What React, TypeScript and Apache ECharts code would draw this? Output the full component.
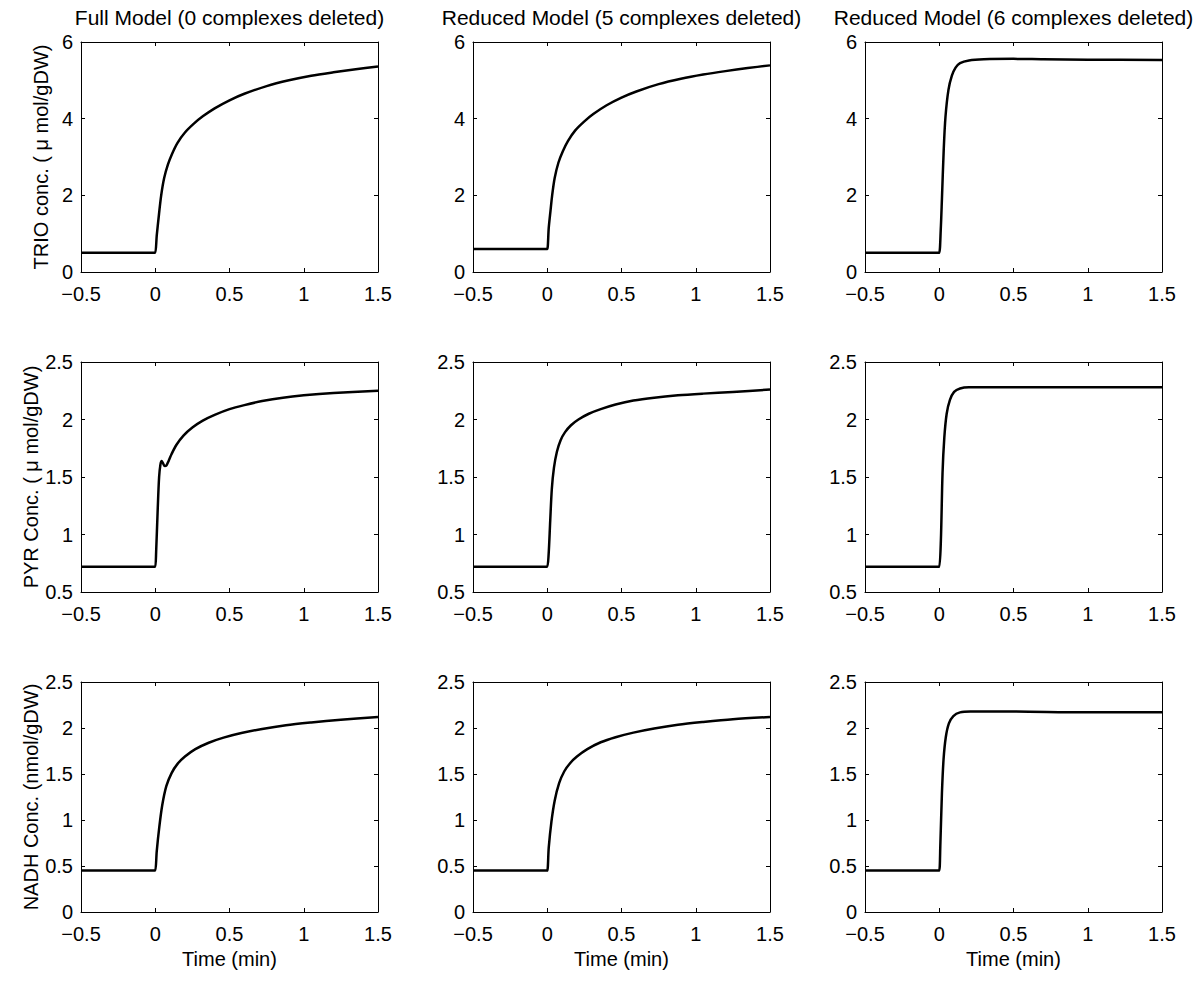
import React, { useEffect, useRef } from "react";
import * as echarts from "echarts";

const columnTitles = [
  "Full Model (0 complexes deleted)",
  "Reduced Model (5 complexes deleted)",
  "Reduced Model (6 complexes deleted)",
];
const rowLabels = [
  "TRIO conc. ( \u03bc mol/gDW)",
  "PYR Conc. ( \u03bc mol/gDW)",
  "NADH Conc. (nmol/gDW)",
];
const xAxisName = "Time (min)";
const xRange = { min: -0.5, max: 1.5, interval: 0.5 };
const yRanges = [
  { min: 0, max: 6, interval: 2 },
  { min: 0.5, max: 2.5, interval: 0.5 },
  { min: 0, max: 2.5, interval: 0.5 },
];

// [time (min), concentration]
const trioFull = [
  [-0.5, 0.5], [-0.01, 0.5], [0, 0.5], [0.01, 0.95], [0.025, 1.5], [0.04, 2.0], [0.06, 2.45],
  [0.085, 2.8], [0.113, 3.08], [0.15, 3.37], [0.2, 3.64], [0.26, 3.87], [0.32, 4.06], [0.4, 4.27],
  [0.5, 4.48], [0.6, 4.65], [0.75, 4.85], [0.9, 5.0], [1.05, 5.12], [1.2, 5.21], [1.35, 5.29], [1.5, 5.36],
];
const trio5 = [
  [-0.5, 0.6], [-0.01, 0.6], [0, 0.6], [0.01, 1.15], [0.022, 1.6], [0.033, 2.0], [0.05, 2.45],
  [0.075, 2.85], [0.105, 3.15], [0.14, 3.42], [0.19, 3.7], [0.25, 3.93], [0.31, 4.12], [0.4, 4.35],
  [0.5, 4.55], [0.6, 4.71], [0.75, 4.9], [0.9, 5.04], [1.05, 5.15], [1.2, 5.24], [1.35, 5.32], [1.5, 5.39],
];
const trio6 = [
  [-0.5, 0.5], [-0.01, 0.5], [0, 0.5], [0.01, 1.1], [0.018, 1.9], [0.03, 3.18], [0.042, 4.05],
  [0.062, 4.75], [0.085, 5.12], [0.11, 5.33], [0.14, 5.45], [0.2, 5.52], [0.3, 5.55],
  [0.5, 5.56], [0.7, 5.55], [1.0, 5.54], [1.5, 5.53],
];
const pyrFull = [
  [-0.5, 0.72], [-0.01, 0.72], [0, 0.72], [0.006, 0.85], [0.016, 1.2], [0.026, 1.5], [0.035, 1.61],
  [0.043, 1.64], [0.052, 1.62], [0.064, 1.595], [0.075, 1.6], [0.09, 1.64], [0.11, 1.7],
  [0.143, 1.78], [0.19, 1.86], [0.25, 1.93], [0.32, 1.99], [0.4, 2.04], [0.5, 2.09], [0.6, 2.125],
  [0.72, 2.16], [0.86, 2.19], [1.0, 2.21], [1.2, 2.23], [1.5, 2.25],
];
const pyr5 = [
  [-0.5, 0.72], [-0.01, 0.72], [0, 0.72], [0.009, 0.82], [0.02, 1.12], [0.031, 1.4], [0.045, 1.58],
  [0.065, 1.72], [0.09, 1.82], [0.12, 1.89], [0.16, 1.95], [0.21, 2.0], [0.28, 2.05], [0.36, 2.09],
  [0.46, 2.13], [0.58, 2.165], [0.72, 2.19], [0.88, 2.21], [1.05, 2.225], [1.25, 2.24], [1.5, 2.26],
];
const pyr6 = [
  [-0.5, 0.72], [-0.01, 0.72], [0, 0.72], [0.011, 0.95], [0.022, 1.53], [0.034, 1.84], [0.05, 2.05],
  [0.072, 2.17], [0.1, 2.24], [0.14, 2.27], [0.2, 2.28], [0.5, 2.28], [1.0, 2.28], [1.5, 2.28],
];
const nadhFull = [
  [-0.5, 0.45], [-0.01, 0.45], [0, 0.45], [0.01, 0.66], [0.027, 0.92], [0.047, 1.16], [0.075, 1.37],
  [0.11, 1.51], [0.15, 1.61], [0.2, 1.69], [0.27, 1.77], [0.36, 1.84], [0.46, 1.895], [0.58, 1.945],
  [0.72, 1.99], [0.88, 2.03], [1.05, 2.06], [1.25, 2.09], [1.5, 2.12],
];
const nadh5 = [
  [-0.5, 0.45], [-0.01, 0.45], [0, 0.45], [0.01, 0.7], [0.028, 0.98], [0.05, 1.21], [0.08, 1.4],
  [0.115, 1.53], [0.155, 1.62], [0.2, 1.69], [0.27, 1.77], [0.36, 1.845], [0.46, 1.9], [0.58, 1.95],
  [0.72, 1.995], [0.88, 2.035], [1.05, 2.065], [1.25, 2.095], [1.5, 2.12],
];
const nadh6 = [
  [-0.5, 0.45], [-0.01, 0.45], [0, 0.45], [0.007, 0.71], [0.018, 1.29], [0.029, 1.66], [0.044, 1.9],
  [0.065, 2.05], [0.095, 2.13], [0.14, 2.17], [0.21, 2.18], [0.48, 2.18], [0.97, 2.17], [1.5, 2.17],
];

const panelData = [
  [trioFull, trio5, trio6],
  [pyrFull, pyr5, pyr6],
  [nadhFull, nadh5, nadh6],
];

const COL_LEFT = [81, 473, 865];
const ROW_TOP = [42, 362, 682];
const PANEL_W = 297;
const PANEL_H = 230;
const FONT = "'Liberation Sans', Arial, Helvetica, sans-serif";
const FS = 20;

const fmtMinus = (v: number) => String(v).replace("-", "\u2212");

export default function App() {
  const ref = useRef<HTMLDivElement>(null);

  useEffect(() => {
    if (!ref.current) return;
    const chart = echarts.init(ref.current, undefined, { renderer: "svg" });

    const grids: any[] = [];
    const xAxes: any[] = [];
    const yAxes: any[] = [];
    const series: any[] = [];
    const titles: any[] = [];

    const lineStyle = { color: "#000", width: 1 };
    const tick = { show: true, inside: true, length: 4, lineStyle: { color: "#000", width: 1 } };

    for (let r = 0; r < 3; r++) {
      for (let c = 0; c < 3; c++) {
        const gi = grids.length;
        grids.push({
          left: COL_LEFT[c],
          top: ROW_TOP[r],
          width: PANEL_W,
          height: PANEL_H,
          containLabel: false,
          show: false,
        });
        xAxes.push({
          gridIndex: gi,
          type: "value",
          position: "bottom",
          min: xRange.min,
          max: xRange.max,
          interval: xRange.interval,
          axisLine: { show: true, onZero: false, lineStyle },
          axisTick: tick,
          splitLine: { show: false },
          axisLabel: {
            show: true,
            margin: 12,
            color: "#000",
            fontSize: FS,
            fontFamily: FONT,
            formatter: fmtMinus,
          },
          name: r === 2 ? xAxisName : "",
          nameLocation: "middle",
          nameGap: 37,
          nameTextStyle: { color: "#000", fontSize: FS, fontFamily: FONT },
        });
        xAxes.push({
          gridIndex: gi,
          type: "value",
          position: "top",
          min: xRange.min,
          max: xRange.max,
          interval: xRange.interval,
          axisLine: { show: true, onZero: false, lineStyle },
          axisTick: tick,
          splitLine: { show: false },
          axisLabel: { show: false },
        });
        const yr = yRanges[r];
        yAxes.push({
          gridIndex: gi,
          type: "value",
          position: "left",
          min: yr.min,
          max: yr.max,
          interval: yr.interval,
          axisLine: { show: true, onZero: false, lineStyle },
          axisTick: tick,
          splitLine: { show: false },
          axisLabel: {
            show: true,
            margin: 8,
            color: "#000",
            fontSize: FS,
            fontFamily: FONT,
          },
          name: c === 0 ? rowLabels[r] : "",
          nameLocation: "middle",
          nameGap: 30,
          nameTextStyle: { color: "#000", fontSize: FS, fontFamily: FONT },
        });
        yAxes.push({
          gridIndex: gi,
          type: "value",
          position: "right",
          min: yr.min,
          max: yr.max,
          interval: yr.interval,
          axisLine: { show: true, onZero: false, lineStyle },
          axisTick: tick,
          splitLine: { show: false },
          axisLabel: { show: false },
        });
        series.push({
          type: "line",
          xAxisIndex: gi * 2,
          yAxisIndex: gi * 2,
          data: panelData[r][c],
          showSymbol: false,
          symbol: "none",
          smooth: 0.3,
          lineStyle: { color: "#000", width: 2.5, join: "round" },
          silent: true,
        });
      }
    }

    for (let c = 0; c < 3; c++) {
      titles.push({
        text: columnTitles[c],
        left: COL_LEFT[c] + PANEL_W / 2,
        top: 7,
        textAlign: "center",
        padding: 0,
        textStyle: { color: "#000", fontSize: 21, fontWeight: "normal", fontFamily: FONT },
      });
    }

    chart.setOption({
      animation: false,
      backgroundColor: "#fff",
      textStyle: { fontFamily: FONT },
      title: titles,
      grid: grids,
      xAxis: xAxes,
      yAxis: yAxes,
      series,
    });

    return () => chart.dispose();
  }, []);

  return (
    <div
      ref={ref}
      style={{ position: "absolute", left: 0, top: 0, width: 1200, height: 984, background: "#fff" }}
    />
  );
}
